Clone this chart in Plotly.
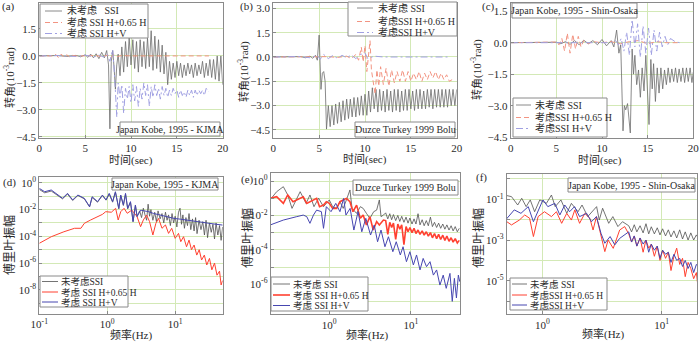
import numpy as np
import plotly.graph_objects as go
from plotly.subplots import make_subplots

W, H = 700, 343
FONT = "Liberation Serif, Noto Sans CJK SC, serif"
GRID = "#d3e9b6"
FRAME = "#8a8a8a"
TXT = "#2b2b2b"

# ---------------- top row: rotation time histories [10^-3 rad] ----------------
# (a) Japan Kobe, 1995 - KJMA
a_black_t = [0, 1.0, 2.0, 3.0, 4.0, 4.5, 5.0, 5.3, 5.6, 5.9, 6.2, 6.5, 6.8, 7.1, 7.35, 7.55, 7.7, 7.85,
             8.0, 8.15, 8.3, 8.45, 8.6, 8.8, 9.0, 9.2, 9.4, 9.6, 9.8, 10.0, 10.2, 10.4, 10.6, 10.8, 11.0,
             11.2, 11.4, 11.6, 11.8, 12.0, 12.2, 12.4, 12.6, 12.8, 13.0, 13.2, 13.4, 13.6, 13.8, 14.0,
             14.2, 14.4, 14.6, 14.8, 15.0, 15.2, 15.4, 15.6, 15.8, 16.0, 16.2, 16.4, 16.6, 16.8, 17.0,
             17.2, 17.4, 17.6, 17.8, 18.0, 18.2, 18.4, 18.6, 18.8, 19.0, 19.2, 19.4, 19.6, 19.8, 20.0]
a_black_v = [0, 0, 0.02, -0.03, 0.03, -0.05, 0.06, -0.08, 0.1, -0.1, 0.12, -0.15, 0.2, -0.1, 0.3, -0.5,
             -4.05, -0.3, 0.3, -0.6, -1.85, -0.5, 0.1,
             -1.1, 0.5, -0.9, 0.8, -0.6, 1.0, -0.5, 0.9, -0.7, 0.8,
             -0.9, 0.9, -0.6, 0.8, -0.7, 1.0, -0.6, 1.4, -0.8, 1.1,
             -0.7, 0.9, -0.9, 0.6, -1.0, 0.2, -1.6, -0.3, -1.3, -0.4,
             -1.2, -0.3, -1.1, -0.4, -1.2, -0.5, -1.1, -0.4, -1.0, -0.5,
             -1.2, -0.4, -1.1, -0.5, -1.0, -0.3, -1.2, -0.4, -1.1, -0.2,
             -1.2, -0.2, -1.3, 0.0, -1.4, 0.0, -1.6]
a_red_t = [0, 1.5, 1.8, 2.1, 2.4, 2.7, 3.0, 3.3, 3.6, 4.0, 5.0, 6.0, 7.0, 7.5, 7.8, 8.1, 8.5, 9.0,
           10.0, 12.0, 14.0, 16.0, 18.5]
a_red_v = [0, 0, 0.08, -0.1, 0.1, -0.08, 0.06, -0.05, 0.03, 0, 0, 0.02, -0.03, 0.05, -0.1, 0.08, -0.03,
           0.02, 0, 0, 0, 0, 0]
a_blue_t = [0, 2.0, 4.0, 5.0, 6.0, 6.5, 7.0, 7.4, 7.7, 8.0, 8.2, 8.45,
            8.6, 8.8, 9.0, 9.2, 9.4, 9.6, 9.8, 10.0, 10.2, 10.4, 10.6, 10.8, 11.0, 11.2, 11.4, 11.6,
            11.8, 12.0, 12.2, 12.4, 12.6, 12.8, 13.0, 13.2, 13.4, 13.6, 13.8, 14.0, 14.2, 14.4, 14.6,
            14.8, 15.0, 15.2, 15.4, 15.6, 15.8, 16.0, 16.2, 16.4, 16.6, 16.8, 17.0, 17.2, 17.4, 17.6,
            17.8, 18.0, 18.2, 18.5]
a_blue_v = [0, 0.02, -0.03, 0.04, -0.05, 0.05, -0.06, 0.1, -0.3, 0.35, -1.0, -3.4,
            -1.5, -2.3, -1.6, -3.2, -1.8, -2.4, -1.7, -2.6, -1.6, -2.5,
            -1.7, -2.8, -1.8, -2.4, -1.5, -2.2, -1.6, -2.8, -1.7, -2.3,
            -1.6, -2.2, -1.8, -2.4, -1.7, -2.2, -1.8, -2.3, -1.9, -2.2,
            -1.8, -2.1, -1.9, -2.3, -1.9, -2.2, -2.0, -2.3, -1.9, -2.2,
            -1.9, -2.3, -1.9, -2.2, -1.9, -2.1, -1.9, -2.2, -1.8, -2.0]

# (b) Duzce Turkey 1999 Bolu
b_black_t = [0, 1.0, 2.0, 3.0, 3.5, 4.0, 4.3, 4.6, 4.8, 5.0, 5.2, 5.35, 5.5, 5.65, 5.8,
             6.0, 6.2, 6.4, 6.6, 6.8, 7.0, 7.2, 7.4, 7.6, 7.8, 8.0, 8.2, 8.4, 8.6, 8.8, 9.0, 9.2,
             9.4, 9.6, 9.8, 10.0, 10.2, 10.4, 10.6, 10.8, 11.0, 11.2, 11.4, 11.6, 11.8, 12.0, 12.2,
             12.4, 12.6, 12.8, 13.0, 13.2, 13.4, 13.6, 13.8, 14.0, 14.2, 14.4, 14.6, 14.8, 15.0,
             15.2, 15.4, 15.6, 15.8, 16.0, 16.2, 16.4, 16.6, 16.8, 17.0, 17.2, 17.4, 17.6, 17.8,
             18.0, 18.2, 18.4, 18.6, 18.8, 19.0, 19.2, 19.4, 19.6, 19.8, 20.0]
b_black_v = [0, 0, 0, 0.02, -0.05, 0.05, -0.08, 0.1, -0.2, 1.35, -2.0, -1.0, -0.9, -1.5, -4.45,
             -3.0, -4.3, -3.0, -4.2, -2.9, -4.1, -2.8, -4.0, -2.7, -3.9,
             -2.6, -3.8, -2.6, -3.7, -2.5, -3.7, -2.5, -3.6, -2.4, -3.6,
             -2.3, -3.6, -2.1, -3.4, -1.9, -3.2, -2.0, -3.4, -2.0, -3.3,
             -2.1, -3.4, -2.0, -3.3, -2.1, -3.4, -2.0, -3.3, -2.0, -3.4,
             -2.1, -3.3, -2.0, -3.3, -2.0, -3.2, -2.1, -3.3, -2.0, -3.2,
             -2.0, -3.2, -2.1, -3.2, -2.0, -3.1, -2.0, -3.2, -2.0, -3.1,
             -2.0, -3.1, -2.0, -3.1, -2.0, -3.1, -2.0, -3.0, -2.0, -3.0, -2.0]
b_red_t = [0, 2.0, 4.0, 6.0, 7.0, 8.0, 8.5, 9.0, 9.3, 9.6, 9.8, 10.0, 10.2, 10.4, 10.55, 10.7, 10.9,
           11.1, 11.3, 11.5, 11.7, 12.0, 12.3, 12.6, 12.9, 13.2, 13.5, 13.8, 14.1, 14.4, 14.7, 15.0,
           15.3, 15.6, 15.9, 16.2, 16.5, 16.8, 17.1, 17.4, 17.7, 18.0, 18.3, 18.6, 18.9, 19.2, 19.5]
b_red_v = [0, 0, 0, 0.02, -0.03, 0.05, -0.1, 0.15, -0.2, 0.6, -0.3, 0.7, -0.9, 0.5, 1.0, -0.8, -1.5,
           -2.3, -0.8, -1.8, -0.6, -1.7, -0.7, -1.8, -0.8, -1.6, -0.9, -1.5, -0.8, -1.5, -0.9, -1.5,
           -1.0, -1.4, -0.9, -1.5, -1.0, -1.4, -0.9, -1.3, -0.9, -1.4, -1.0, -1.4, -1.1, -1.5, -1.4]
b_blue_t = [0, 2.0, 3.0, 4.0, 4.8, 5.1, 5.5, 6.0, 6.5, 7.0, 7.5, 8.0, 8.5, 9.0, 9.5, 10.0, 10.3,
            11.0, 12.0, 19.0]
b_blue_v = [0, 0, 0.03, -0.05, 0.1, -0.15, 0.15, -0.1, 0.1, -0.08, 0.1, -0.05, 0.12, -0.1, 0.15,
            0.25, -0.1, 0.05, 0, 0]

# (c) Japan Kobe, 1995 - Shin-Osaka
c_black_t = [0, 2.0, 4.0, 5.0, 5.5, 6.0, 6.5, 7.0, 7.5, 8.0, 8.5, 9.0, 9.5, 10.0, 10.5, 11.0, 11.3,
             11.6, 11.85, 12.05, 12.3, 12.45, 12.6, 12.8, 13.1, 13.3, 13.45, 13.6, 13.8, 14.0, 14.2,
             14.4, 14.6, 14.8, 15.15, 15.35, 15.5, 15.65, 15.85, 16.05, 16.25, 16.45, 16.65, 16.85,
             17.05, 17.25, 17.45, 17.65, 17.85, 18.05, 18.25, 18.45, 18.65, 18.85, 19.05, 19.25,
             19.45, 19.65, 19.85, 20.0]
c_black_v = [0, 0, 0, 0.02, -0.05, 0.05, -0.08, 0.1, -0.1, 0.12, -0.05, 0.1, -0.1, 0.15, -0.15, 0.1,
             -0.2, 0.6, -0.5, -0.1, -4.2, -3.0, -3.2, -2.9, -4.3, -0.3, -1.5, -0.6, -2.0, -1.3, -2.6,
             -1.2, -2.3, -0.6, -3.9, -0.8, -2.2, -1.0, -2.8, -1.2, -2.4, -1.2, -2.2, -1.3, -2.0,
             -1.2, -1.9, -1.25, -1.85, -1.2, -1.9, -1.25, -1.85, -1.2, -1.9, -1.2, -1.85, -1.2,
             -1.9, -1.4]
c_red_t = [0, 4.0, 5.0, 5.3, 5.6, 5.9, 6.2, 6.5, 6.8, 7.1, 7.4, 7.7, 8.0, 8.5, 9.0, 10.0, 11.0, 12.0,
           13.0, 14.0, 15.0, 16.0, 17.0, 18.5]
c_red_v = [0, 0, 0.03, -0.1, 0.2, -0.4, 0.45, -0.5, 0.4, -0.3, 0.3, -0.2, 0.1, -0.05, 0.05, 0, 0.05,
           -0.05, 0.05, 0.1, -0.05, 0.05, 0, 0]
c_blue_t = [0, 5.0, 8.0, 10.0, 11.0, 11.5, 11.8, 12.1, 12.4, 12.7, 13.0, 13.3, 13.6, 13.9, 14.2, 14.5,
            14.8, 15.1, 15.4, 15.7, 16.0, 16.3, 16.6, 16.9, 17.2, 17.5, 18.0, 18.5]
c_blue_v = [0, 0, 0, 0.02, 0, 0.1, -0.1, 0.2, -0.4, 0.5, -0.6, 1.1, -0.2, 0.9, -0.7, 0.8, -0.5, 0.7,
            -0.6, 0.6, -0.4, 0.5, -0.2, 0.3, -0.1, 0.2, 0.05, 0]

# ---------------- bottom row: Fourier amplitude spectra ----------------
# frequencies in Hz, amplitudes read as decade exponents (log10 of amplitude)
d_black_f = [0.1, 0.12, 0.15, 0.19, 0.22, 0.26, 0.31, 0.37, 0.46, 0.55, 0.6, 0.72, 0.85, 0.96, 1.07,
             1.2, 1.32, 1.48, 1.58, 1.73, 1.86, 2.0, 2.2, 2.4, 2.6, 2.75,
             3.0, 3.2, 3.4, 3.6, 3.8, 4.0, 4.2, 4.4, 4.7,
             5.0, 5.3, 5.6, 6.0, 6.4, 6.8, 7.2, 7.6, 8.0, 8.5, 9.0, 9.5,
             10, 10.6, 11.2, 11.8, 12.4, 13, 13.7, 14.4, 15.2, 16, 17, 18, 19, 20,
             21, 22.5, 24, 25.5, 27, 28.5, 30, 32, 34, 36, 38, 40, 42.5, 45, 47.5, 50]
d_black_log = [-0.5, -0.75, -0.62, -1.0, -1.2, -0.85, -1.32, -0.95, -1.2, -1.8,
               -1.1, -1.45, -0.95, -1.3, -0.85, -1.45, -0.7, -1.95, -0.95, -1.7,
               -0.85, -1.95, -1.45, -2.9, -1.7, -2.5,
               -2.1, -2.6, -1.9, -2.4, -2.8, -1.6, -2.5, -2.0, -2.8,
               -2.2, -2.9, -2.1, -2.7, -2.3, -3.0, -2.2, -2.8, -2.4, -3.2, -2.3, -3.0,
               -2.5, -3.3, -2.2, -1.9, -3.1, -2.4, -3.4, -2.6, -3.2, -2.3, -3.5, -2.7, -3.6, -2.6,
               -3.8, -2.8, -3.5, -2.9, -3.9, -2.8, -4.1, -3.0, -3.7, -3.1, -4.2, -3.0, -3.9, -3.2,
               -4.3, -3.3]
d_red_f = [0.1, 0.15, 0.23, 0.33, 0.41, 0.46, 0.57, 0.68, 0.85, 0.95, 1.15, 1.33, 1.45, 1.58, 1.77,
           1.97, 2.3, 2.75, 3.1, 3.4, 3.8, 4.2, 4.7, 5.2, 5.7, 6.4, 7.2, 8.0, 8.9, 10, 11.2, 12.1,
           13.3, 14.7, 16, 17.4, 19, 20.8, 22.6, 24.5, 26.9, 29.2, 32, 34.7, 38, 41.3, 45, 47.5, 50]
d_red_log = [-4.52, -4.03, -3.66, -3.4, -3.4, -3.03, -2.78, -2.61, -2.36, -2.16, -2.2, -1.91, -2.78,
             -2.16, -1.91, -2.28, -2.04, -2.53, -3.28, -2.78, -2.41, -2.9, -3.9, -3.03, -2.66, -3.4,
             -3.15, -3.78, -3.4, -4.15, -3.78, -4.4, -4.03, -4.78, -4.28, -5.0, -4.65, -5.4, -5.0,
             -5.77, -5.4, -6.14, -5.65, -6.5, -6.0, -6.9, -6.6, -7.63, -7.3]
d_blue_f = [0.1, 0.12, 0.15, 0.19, 0.22, 0.26, 0.31, 0.37, 0.46, 0.55, 0.6, 0.72, 0.85, 0.96, 1.07,
            1.2, 1.32, 1.48, 1.58, 1.73, 1.86, 2.0, 2.2, 2.4, 2.6, 2.75,
            3.1, 3.5, 4.0, 4.8, 6.0, 7.5, 9.6, 12, 15, 21, 30, 40, 50]
d_blue_log = [-0.42, -0.67, -0.54, -0.92, -1.16, -0.79, -1.28, -0.92, -1.16, -1.79, -1.04, -1.41,
              -0.92, -1.28, -0.79, -1.41, -0.67, -1.91, -0.92, -1.66, -0.79, -1.91, -1.41, -2.9,
              -1.66, -2.53, -2.04, -2.1, -2.15, -2.29, -2.4, -2.55, -2.66, -2.72, -2.8, -2.9, -3.02,
              -3.1, -3.16]

e_band_f = [4.9, 5.2, 5.5, 5.8, 6.1, 6.5, 6.9, 7.3, 7.7, 8.2, 8.7, 9.2, 9.7, 10.3, 10.9, 11.5, 12.2,
            12.9, 13.7, 14.5, 15.4, 16.3, 17.3, 18.3, 19.4, 20.6, 21.8, 23.1, 24.5, 26, 27.5, 29.2,
            31, 32.8, 34.8, 36.9, 39]
e_black_f = [0.188, 0.227, 0.274, 0.31, 0.35, 0.40, 0.44, 0.52, 0.58, 0.65, 0.74, 0.85, 1.0, 1.1,
             1.23, 1.35, 1.48, 1.62, 1.79, 1.9, 2.16, 2.4, 2.6, 2.85, 3.14, 3.5, 3.8, 4.1, 4.3,
             4.6] + e_band_f
e_black_log = [-1.10, -0.62, -0.33, -0.81, -1.59, -1.0, -0.62, -1.3, -0.81, -1.49, -1.0, -1.49,
               -1.10, -1.49, -1.59, -1.2, -1.59, -1.1, -0.52, -1.59, -1.88, -1.49, -1.59, -1.88,
               -2.17, -1.78, -1.69, -1.1, -2.07, -1.98,
               -1.85, -2.2, -1.9, -2.25, -1.95, -2.3, -2.0, -2.35, -2.05, -2.4, -2.1, -2.45, -2.15,
               -2.5, -2.2, -2.5, -1.9, -2.55, -2.25, -2.6, -2.3, -2.6, -2.1, -2.65, -2.4, -2.7,
               -2.45, -2.75, -2.5, -2.8, -2.55, -2.85, -2.6, -2.9, -2.65, -2.95, -2.75]
e_red_f = [0.188, 0.227, 0.274, 0.31, 0.36, 0.40, 0.48, 0.53, 0.58, 0.70, 0.76, 0.85, 0.92, 1.0,
           1.1, 1.23, 1.35, 1.48, 1.62, 1.79, 1.95, 2.16, 2.4, 2.6, 2.85, 3.14, 3.45, 3.8, 4.1,
           4.6] + e_band_f
e_red_log = [-1.01, -0.91, -1.3, -0.81, -1.2, -1.1, -0.91, -1.3, -1.2, -1.01, -1.49, -1.4, -1.2,
             -1.3, -1.59, -1.59, -1.2, -1.1, -1.01, -1.2, -1.78, -1.4, -2.17, -1.98, -2.56, -2.07,
             -2.85, -2.36, -2.56, -2.27,
             -2.3, -3.1, -2.4, -2.7, -2.45, -3.4, -2.5, -2.8, -2.55, -3.7, -2.65, -2.95, -2.7,
             -3.0, -2.75, -3.05, -2.85, -3.1, -2.9, -3.15, -2.95, -3.2, -3.0, -3.3, -3.05, -3.35,
             -3.1, -3.4, -3.15, -3.45, -3.2, -3.5, -3.3, -3.55, -3.35, -3.6, -3.45]
e_blue_f = [0.188, 0.274, 0.40, 0.48, 0.53, 0.58, 0.64, 0.70, 0.80, 0.85, 0.92, 1.05, 1.2, 1.35,
            1.5, 1.6, 1.8, 2.0, 2.25, 2.5, 2.8, 3.2, 3.55, 3.9, 4.3, 4.8, 5.3, 6.0, 6.6, 7.4, 8.0,
            8.8, 9.7, 10.7, 11.7, 12.9, 14.1, 15.5, 17.1, 18.8, 20.6, 22.6, 24.8, 27, 30, 32, 34,
            36, 38, 39.5]
e_blue_log = [-2.56, -2.27, -2.07, -1.98, -2.07, -2.46, -1.98, -1.69, -1.78, -2.75, -1.49, -1.78,
              -1.3, -1.78, -1.01, -1.98, -1.59, -2.85, -1.78, -2.95, -2.17, -3.14, -2.56, -3.53,
              -2.85, -3.82, -3.24, -4.11, -3.53, -4.3, -3.82, -4.69, -4.11, -4.88, -4.3, -5.17,
              -4.5, -4.98, -4.69, -5.47, -5.17, -6.05, -5.47, -6.24, -5.37, -7.0, -5.66, -6.8,
              -5.47, -5.85]

f_band_f = [5.3, 5.6, 5.9, 6.2, 6.6, 7.0, 7.4, 7.8, 8.2, 8.7, 9.2, 9.7, 10.2, 10.8, 11.4, 12.0, 12.7,
            13.4, 14.2, 15.0, 15.8, 16.7, 17.6, 18.6, 19.6, 20.3]
f_black_f = [0.48, 0.55, 0.62, 0.67, 0.73, 0.79, 0.86, 0.95, 1.08, 1.19, 1.28, 1.43, 1.6, 1.75,
             1.99, 2.15, 2.4, 2.6, 2.85, 3.0, 3.2, 3.6, 3.9, 4.3, 4.7] + f_band_f
f_black_log = [-0.79, -0.87, -1.28, -0.95, -1.36, -1.03, -1.61, -1.03, -1.2, -0.79, -1.36, -1.03,
               -1.69, -1.2, -1.61, -1.28, -1.85, -1.61, -1.36, -2.02, -1.44, -2.18, -1.85, -2.34,
               -2.1,
               -2.3, -2.6, -2.25, -2.6, -2.3, -2.65, -2.2, -2.7, -2.35, -2.7, -2.4, -2.75, -2.45,
               -2.8, -2.5, -2.85, -2.55, -2.9, -2.5, -2.95, -2.6, -3.0, -2.65, -3.0, -2.75, -2.9]
f_red_f = [0.48, 0.55, 0.64, 0.71, 0.78, 0.84, 0.92, 1.04, 1.19, 1.31, 1.45, 1.6, 1.75, 1.87, 2.05,
           2.27, 2.5, 2.66, 2.84, 3.1, 3.34, 3.56, 3.93, 4.45, 4.9] + f_band_f
f_red_log = [-2.02, -2.26, -2.02, -1.77, -1.93, -2.83, -1.85, -1.61, -1.85, -1.61, -2.18, -1.69,
             -2.02, -1.52, -2.18, -1.69, -1.93, -2.51, -1.85, -2.83, -3.57, -3.0, -3.41, -2.51,
             -2.34,
             -2.7, -3.1, -2.8, -3.3, -2.9, -3.6, -3.0, -3.4, -3.2, -3.8, -3.3, -4.0, -3.5, -3.9,
             -3.6, -4.5, -3.8, -3.4, -4.2, -3.9, -4.8, -4.1, -4.4, -4.9, -4.6, -5.4]
f_blue_f = [0.49, 0.58, 0.66, 0.76, 0.84, 1.01, 1.11, 1.27, 1.40, 1.54, 1.69, 1.86, 2.05, 2.35, 2.58,
            2.84, 3.1, 3.34, 3.7, 4.05, 4.45, 5.15] + f_band_f
f_blue_log = [-2.02, -1.52, -1.69, -1.36, -2.1, -1.03, -1.36, -1.2, -1.77, -1.28, -1.61, -1.36,
              -1.85, -1.69, -2.1, -1.85, -2.67, -3.16, -2.83, -3.24, -2.92, -2.67,
              -2.6, -3.1, -2.8, -3.3, -2.9, -3.2, -3.0, -3.6, -3.2, -3.5, -3.3, -3.9, -3.5, -3.7,
              -3.6, -4.1, -3.7, -4.0, -3.9, -4.3, -4.0, -4.4, -4.1, -4.6, -4.2, -4.3]

# ---------------- text ----------------
top_legend = {
    "a": ["未考虑   SSI", "考虑 SSI H+0.65 H", "考虑 SSI H+V"],
    "b": ["未考虑 SSI", "考虑SSI H+0.65 H", "考虑SSI H+V"],
    "c": ["未考虑 SSI", "考虑SSI H+0.65 H", "考虑SSI H+V"],
}
bottom_legend = {
    "d": ["未考虑SSI", "考虑 SSI H+0.65 H", "考虑 SSI H+V"],
    "e": ["未考虑 SSI", "考虑 SSI H+0.65 H", "考虑 SSI H+V"],
    "f": ["未考虑 SSI", "考虑SSI H+0.65 H", "考虑SSI H+V"],
}
records = {
    "a": "Japan Kobe, 1995 - KJMA",
    "b": "Duzce Turkey 1999 Bolu",
    "c": "Japan Kobe, 1995 - Shin-Osaka",
    "d": "Japan Kobe, 1995 - KJMA",
    "e": "Duzce Turkey 1999 Bolu",
    "f": "Japan Kobe, 1995 - Shin-Osaka",
}


def X(p):
    return p / W


def Y(p):
    return 1 - p / H


def add_box(fig, x0, y0, x1, y1):
    fig.add_shape(type="rect", xref="paper", yref="paper", x0=X(x0), x1=X(x1), y0=Y(y1), y1=Y(y0),
                  line=dict(color=FRAME, width=1), fillcolor="white", layer="above")


def add_text(fig, x, y, text, size=10, xanchor="center", angle=0):
    fig.add_annotation(x=X(x), y=Y(y), xref="paper", yref="paper", text=text, showarrow=False,
                       xanchor=xanchor, yanchor="middle", textangle=angle, borderpad=0,
                       font=dict(family=FONT, size=size, color=TXT))


def add_legend(fig, box, rows, xline, xtext, labels, styles, size=10):
    """box in pixels, one row per entry: line sample + label"""
    add_box(fig, *box)
    for y, label, (color, dash, width) in zip(rows, labels, styles):
        fig.add_shape(type="line", xref="paper", yref="paper", x0=X(xline[0]), x1=X(xline[1]),
                      y0=Y(y), y1=Y(y), line=dict(color=color, dash=dash, width=width),
                      layer="above")
        add_text(fig, xtext, y, label, size=size, xanchor="left")


def add_line(fig, row, col, x, y, color, dash="solid", width=1.0):
    fig.add_trace(
        go.Scatter(x=x, y=y, mode="lines", line=dict(color=color, dash=dash, width=width),
                   showlegend=False, hoverinfo="skip"),
        row=row, col=col,
    )


def axis_common():
    return dict(showline=True, mirror=True, linecolor=FRAME, linewidth=1, showgrid=True,
                gridcolor=GRID, gridwidth=1, zeroline=False, ticks="inside", ticklen=3,
                tickcolor=FRAME, automargin=False,
                tickfont=dict(family=FONT, size=11, color=TXT))


def exp_label(n):
    return "10<sup>%d</sup>" % n


fig = make_subplots(rows=2, cols=3)

top_styles = [("#6c6c6c", "solid", 0.8), ("#f29482", "5px,3px", 1.0),
              ("#a0a0e2", "7px,3px,2px,3px", 1.0)]
bot_styles = [("#505050", "solid", 0.8), ("#ff4030", "solid", 1.0), ("#4646b0", "solid", 1.0)]

# ---- top row panels ----
top_panels = [
    # key, col, (x0,x1) px, yrange, series
    ("a", 1, (39.3, 222.7), [-4.56, 2.94],
     [(a_black_t, a_black_v), (a_red_t, a_red_v), (a_blue_t, a_blue_v)]),
    ("b", 2, (273.3, 456.7), [-5.0, 3.33],
     [(b_black_t, b_black_v), (b_red_t, b_red_v), (b_blue_t, b_blue_v)]),
    ("c", 3, (510.7, 693.3), [-4.54, 1.89],
     [(c_black_t, c_black_v), (c_red_t, c_red_v), (c_blue_t, c_blue_v)]),
]
for key, col, (x0, x1), yr, series in top_panels:
    for (t, v), (color, dash, width) in zip(series, top_styles):
        add_line(fig, 1, col, t, v, color, dash, width)
    fig.update_xaxes(domain=[X(x0), X(x1)], range=[0, 20], tickvals=[0, 5, 10, 15, 20],
                     **axis_common(), row=1, col=col)
    fig.update_yaxes(domain=[Y(138), Y(3)], range=yr, tickvals=[3.0, 1.5, 0.0, -1.5, -3.0, -4.5],
                     tickformat=".1f", **axis_common(), row=1, col=col)

# ---- bottom row panels ----
bottom_panels = [
    ("d", 1, (39.3, 222.7), (177, 314), [-1, 1.7], [-9.8, 0.43], [0.1, 1, 10],
     list(range(0, -10, -1)), [(d_black_f, d_black_log), (d_red_f, d_red_log),
                               (d_blue_f, d_blue_log)], 0),
    ("e", 2, (270.7, 460), (173.3, 314.3), [-0.717, 1.60], [-7.75, 0.45], [1, 10],
     list(range(0, -8, -1)), [(e_black_f, e_black_log), (e_red_f, e_red_log),
                              (e_blue_f, e_blue_log)], 0),
    ("f", 3, (506.7, 697.3), (174, 314.3), [-0.30, 1.30], [-6.65, 0.243], [1, 10],
     list(range(0, -7, -1)), [(f_black_f, f_black_log), (f_red_f, f_red_log),
                              (f_blue_f, f_blue_log)], 1),
]
for key, col, (x0, x1), (y0, y1), xr, yr, xt, ydec, series, odd in bottom_panels:
    for (f, lg), (color, dash, width) in zip(series, bot_styles):
        if key == "e" and color == "#ff4030":
            width = 1.6
        add_line(fig, 2, col, f, np.power(10.0, lg), color, dash, width)
    fig.update_xaxes(type="log", domain=[X(x0), X(x1)], range=xr, tickvals=xt,
                     ticktext=[exp_label(int(round(np.log10(v)))) for v in xt],
                     **axis_common(), row=2, col=col)
    fig.update_yaxes(type="log", domain=[Y(y1), Y(y0)], range=yr,
                     tickvals=[10.0 ** n for n in ydec],
                     ticktext=[exp_label(n) if abs(n) % 2 == odd else " " for n in ydec],
                     **axis_common(), row=2, col=col)

# ---- record name boxes ----
record_boxes = {
    "a": (120, 122, 220, 136), "b": (355, 122, 455, 137), "c": (512, 3, 637, 18),
    "d": (112, 178, 218, 190), "e": (353, 180, 458, 195), "f": (568, 178, 695, 192),
}
for key, (x0, y0, x1, y1) in record_boxes.items():
    add_box(fig, x0, y0, x1, y1)
    add_text(fig, (x0 + x1) / 2, (y0 + y1) / 2, records[key], size=10)

# ---- legends ----
add_legend(fig, (40, 4, 148, 38), [11, 22.5, 33.5], (45, 62), 66, top_legend["a"], top_styles)
add_legend(fig, (348, 2, 457, 36), [8, 21.5, 32.5], (357, 373), 377, top_legend["b"], top_styles)
add_legend(fig, (513, 98, 607, 137), [105, 117.5, 128.5], (516, 531), 534, top_legend["c"],
           top_styles)
add_legend(fig, (40, 276, 128, 307), [281.5, 292, 302], (42, 58), 60, bottom_legend["d"],
           bot_styles, size=9.5)
e_styles = [bot_styles[0], ("#ff4030", "solid", 1.6), bot_styles[2]]
add_legend(fig, (271, 277, 368, 311), [284, 295, 305.5], (273, 290), 292, bottom_legend["e"],
           e_styles, size=9.5)
add_legend(fig, (510, 278, 607, 310), [284, 295, 305], (512, 527), 529, bottom_legend["f"],
           bot_styles, size=9.5)

# ---- panel labels and axis titles ----
for lab, x, y in [("(a)", 8, 6), ("(b)", 246, 6), ("(c)", 488, 6),
                  ("(d)", 9, 182), ("(e)", 247, 180), ("(f)", 481, 177)]:
    add_text(fig, x, y, lab, size=11)

for x, y in [(9, 78), (243, 72), (476, 70)]:
    add_text(fig, x, y, "转角(10<sup>-3</sup>rad)", size=11, angle=-90)
for x, y in [(131, 160), (365, 159), (600, 160)]:
    add_text(fig, x, y, "时间(sec)", size=11)
for x, y in [(9, 245), (247, 238), (478, 238)]:
    add_text(fig, x, y, "傅里叶振幅", size=12, angle=-90)
for x, y in [(131, 335), (367, 335), (603, 334)]:
    add_text(fig, x, y, "频率(Hz)", size=11)

fig.update_layout(
    width=W, height=H,
    margin=dict(l=0, r=0, t=0, b=0),
    paper_bgcolor="white", plot_bgcolor="white",
    showlegend=False,
    font=dict(family=FONT, size=11, color=TXT),
)

# the page's default body margin would shift the 700x343 figure inside the window
fig.write_html("out.html", config={"displayModeBar": False},
               post_script="document.body.style.margin='0';"
                           "document.body.style.overflow='hidden';")
